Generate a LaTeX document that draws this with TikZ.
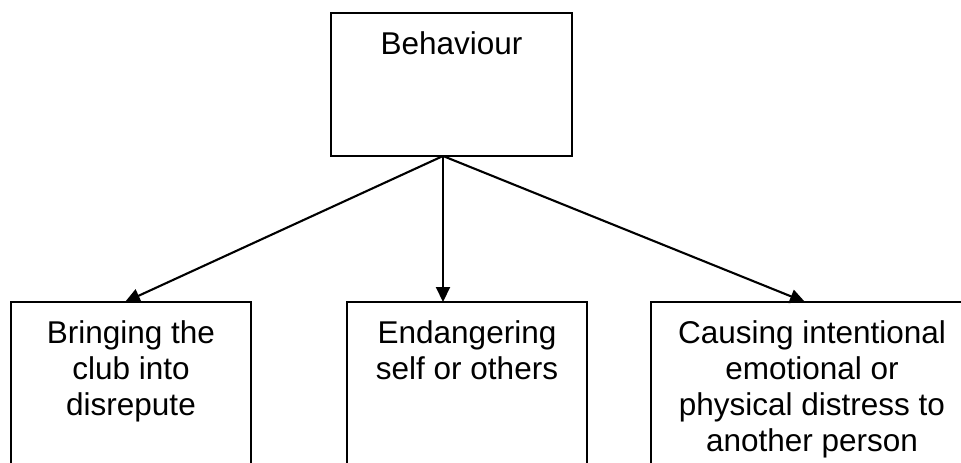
\documentclass[tikz,border=0pt]{standalone}
\usepackage{fontspec}
\setmainfont{Liberation Sans}
\usetikzlibrary{arrows.meta,calc}
\begin{document}
\begin{tikzpicture}[x=1pt,y=-1pt,
  box/.style={draw=black,line width=1.9pt,rectangle,inner sep=0pt,outer sep=0pt,anchor=north west},
  txt/.style={align=center,inner sep=0pt,anchor=north,font=\fontsize{31.5}{36}\selectfont},
  conn/.style={line width=2.1pt,-{Triangle[length=15pt,width=14pt]}}]
\useasboundingbox (0,0) rectangle (961,463);
\clip (0,0) rectangle (961,463);
\node[box,minimum width=241pt,minimum height=143pt] (top) at (331,13) {};
\node[txt] (ttop) at ($(top.north)+(0,18)$) {Behaviour};
\node[box,minimum width=240pt,minimum height=200pt] (b1) at (11,302) {};
\node[txt] (t1) at ($(b1.north)+(0,18)$) {Bringing the\\club into\\disrepute};
\node[box,minimum width=240pt,minimum height=200pt] (b2) at (347,302) {};
\node[txt] (t2) at ($(b2.north)+(0,18)$) {Endangering\\self or others};
\node[box,minimum width=322pt,minimum height=200pt] (b3) at (651,302) {};
\node[txt] (t3) at ($(b3.north)+(0,18)$) {Causing intentional\\emotional or\\physical distress to\\another person};
\coordinate (s) at ($(top.south)+(-8.5,0)$);
\coordinate (e1) at ($(b1.north)+(-6,0)$);
\coordinate (e2) at ($(b2.north)+(-24,0)$);
\coordinate (e3) at ($(b3.north)+(-7,0)$);
\draw[conn] (s) -- (e1);
\draw[conn] (s) -- (e2);
\draw[conn] (s) -- (e3);
\end{tikzpicture}
\end{document}
